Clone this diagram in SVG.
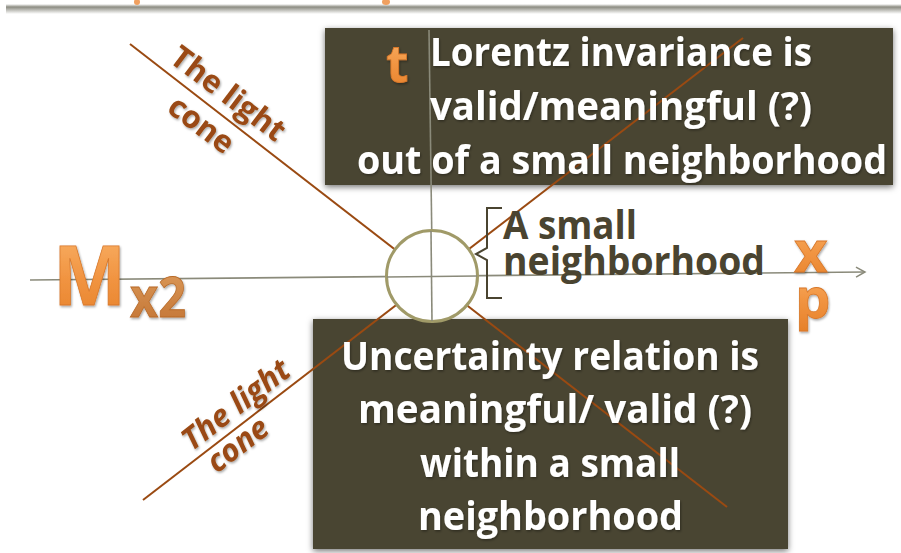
<svg xmlns="http://www.w3.org/2000/svg" width="901" height="553" viewBox="0 0 901 553">
  <defs>
    <style>
      .box { fill: #4a4430; }
      .boxtxt { font-family: "Open Sans", "Liberation Sans", sans-serif; font-weight: bold; font-size: 39px; fill: #ffffff; }
      .olive { font-family: "Open Sans", "Liberation Sans", sans-serif; font-weight: bold; font-size: 39px; fill: #4a4430; }
      .cone { font-family: "Open Sans", "Liberation Sans", sans-serif; font-weight: bold; font-size: 31px; fill: #9a4a12; }
      .orange { font-family: "Open Sans", "Liberation Sans", sans-serif; font-weight: bold; fill: url(#og); stroke: #d8782a; stroke-width: 0.8; }
      .light { stroke: #9a4a12; stroke-width: 2; fill: none; }
      .axis { stroke: #8a8a7a; stroke-width: 1.6; fill: none; }
    </style>
    <linearGradient id="og" x1="0" y1="0" x2="0" y2="1">
      <stop offset="0" stop-color="#fbb870"/>
      <stop offset="0.55" stop-color="#f19441"/>
      <stop offset="1" stop-color="#e57f28"/>
    </linearGradient>
    <linearGradient id="og2" x1="0" y1="0" x2="0" y2="1">
      <stop offset="0" stop-color="#e0a060"/>
      <stop offset="1" stop-color="#c07030"/>
    </linearGradient>
    <linearGradient id="band" x1="0" y1="0" x2="0" y2="1">
      <stop offset="0" stop-color="#ffffff"/>
      <stop offset="0.3" stop-color="#8c8c82"/>
      <stop offset="1" stop-color="#ffffff"/>
    </linearGradient>
    <filter id="sh" x="-10%" y="-10%" width="120%" height="125%">
      <feDropShadow dx="0" dy="2" stdDeviation="3" flood-color="#000" flood-opacity="0.55"/>
    </filter>
    <filter id="tsh" x="-10%" y="-20%" width="120%" height="150%">
      <feDropShadow dx="1" dy="1.5" stdDeviation="1" flood-color="#000" flood-opacity="0.35"/>
    </filter>
    <marker id="arr" markerWidth="12" markerHeight="12" refX="10" refY="6" orient="auto" markerUnits="userSpaceOnUse">
      <path d="M1,1 L10,6 L1,11" fill="none" stroke="#8a8a7a" stroke-width="1.5"/>
    </marker>
  </defs>

  <rect width="901" height="553" fill="#ffffff"/>
  <rect x="6" y="4" width="895" height="10" fill="url(#band)"/>
  <ellipse cx="137" cy="2" rx="3" ry="3" fill="#f0a060"/>
  <ellipse cx="386" cy="2" rx="4" ry="3" fill="#f0a060"/>

  <g id="top-box">
    <rect class="box" x="325" y="28" width="568" height="157" filter="url(#sh)"/>
  </g>
  <g id="bottom-box">
    <rect class="box" x="313" y="319" width="475" height="230" filter="url(#sh)"/>
  </g>

  <g id="connectors">
    <line class="axis" x1="30" y1="280" x2="865" y2="272" marker-end="url(#arr)"/>
    <line class="axis" x1="429" y1="30" x2="433" y2="323"/>
    <line class="light" x1="130" y1="44" x2="727" y2="507"/>
    <line class="light" x1="143" y1="500" x2="743" y2="38"/>
  </g>

  <g id="neighborhood">
    <circle cx="432" cy="276" r="45.5" fill="#ffffff" stroke="#a09a68" stroke-width="3"/>
    <line class="axis" x1="431" y1="231" x2="432" y2="321"/>
    <line class="axis" x1="387" y1="277" x2="477" y2="276"/>
    <path d="M502,208 L487,208 L487,248 L476,254 L487,260 L487,298 L502,298" fill="none" stroke="#4a4430" stroke-width="2"/>
    <text class="olive" x="503" y="239" textLength="134" lengthAdjust="spacingAndGlyphs">A small</text>
    <text class="olive" x="503" y="275" textLength="262" lengthAdjust="spacingAndGlyphs">neighborhood</text>
  </g>

  <g id="top-text" filter="url(#tsh)">
    <text class="boxtxt" x="430" y="66" textLength="382" lengthAdjust="spacingAndGlyphs">Lorentz invariance is</text>
    <text class="boxtxt" x="430" y="120" textLength="382" lengthAdjust="spacingAndGlyphs">valid/meaningful (?)</text>
    <text class="boxtxt" x="357" y="174" textLength="530" lengthAdjust="spacingAndGlyphs">out of a small neighborhood</text>
  </g>

  <g id="bottom-text" filter="url(#tsh)">
    <text class="boxtxt" x="341" y="370" textLength="418" lengthAdjust="spacingAndGlyphs">Uncertainty relation is</text>
    <text class="boxtxt" x="358" y="423" textLength="394" lengthAdjust="spacingAndGlyphs">meaningful/ valid (?)</text>
    <text class="boxtxt" x="420" y="477" textLength="260" lengthAdjust="spacingAndGlyphs">within a small</text>
    <text class="boxtxt" x="418" y="530" textLength="265" lengthAdjust="spacingAndGlyphs">neighborhood</text>
  </g>

  <g id="cone-label-top" filter="url(#tsh)">
    <text class="cone" transform="translate(228,94) rotate(37)" x="0" y="10" text-anchor="middle">The light</text>
    <text class="cone" transform="translate(201,125) rotate(37)" x="0" y="10" text-anchor="middle">cone</text>
  </g>
  <g id="cone-label-bottom" filter="url(#tsh)">
    <text class="cone" font-style="italic" transform="translate(236,405) rotate(-37.6)" x="0" y="10" text-anchor="middle">The light</text>
    <text class="cone" font-style="italic" transform="translate(238,445) rotate(-37.6)" x="0" y="10" text-anchor="middle">cone</text>
  </g>

  <g id="labels" filter="url(#tsh)">
    <text class="orange" x="386" y="82" font-size="52">t</text>
    <text class="orange" x="53" y="305" font-size="82" textLength="73" lengthAdjust="spacingAndGlyphs">M</text>
    <text class="orange" x="130" y="317" font-size="56" textLength="56" lengthAdjust="spacingAndGlyphs" style="fill:url(#og2);stroke:#b86a28">x2</text>
    <text class="orange" x="794" y="272" font-size="58">x</text>
    <text class="orange" x="795" y="318" font-size="56">p</text>
  </g>
</svg>
